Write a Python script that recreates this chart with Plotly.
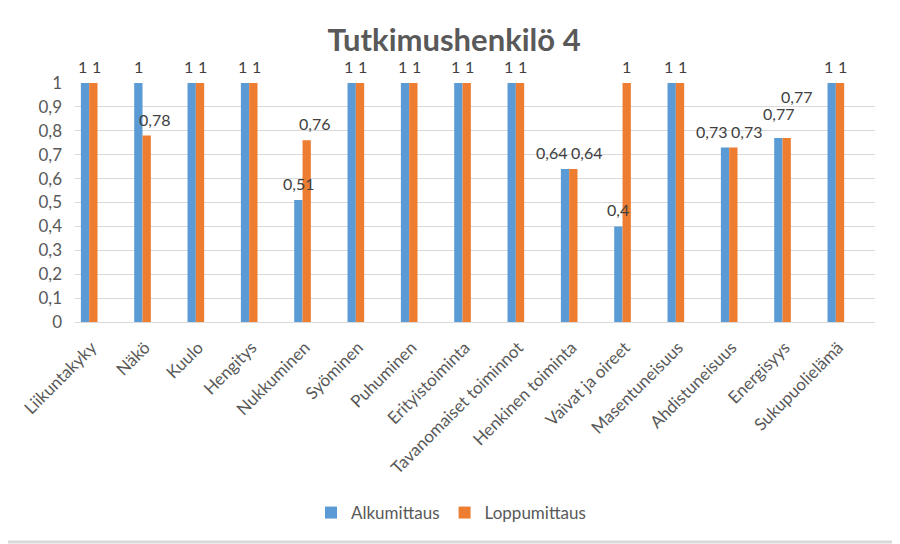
import plotly.graph_objects as go

categories = ["Liikuntakyky", "Näkö", "Kuulo", "Hengitys", "Nukkuminen", "Syöminen",
              "Puhuminen", "Erityistoiminta", "Tavanomaiset toiminnot", "Henkinen toiminta",
              "Vaivat ja oireet", "Masentuneisuus", "Ahdistuneisuus", "Energisyys", "Sukupuolielämä"]
alku = [1, 1, 1, 1, 0.51, 1, 1, 1, 1, 0.64, 0.4, 1, 0.73, 0.77, 1]
loppu = [1, 0.78, 1, 1, 0.76, 1, 1, 1, 1, 0.64, 1, 1, 0.73, 0.77, 1]
series_names = ["Alkumittaus", "Loppumittaus"]
y_ticks = [0, 0.1, 0.2, 0.3, 0.4, 0.5, 0.6, 0.7, 0.8, 0.9, 1]

BLUE = "#5B9BD5"
ORANGE = "#ED7D31"
TXT = "#595959"
FONT = "Lato"

# page body has an 8px margin, so the figure is drawn 8px in from the top-left
PAGE = 8
W, H = 900 - PAGE, 544 - PAGE
ML, MR, MT = 75 - PAGE, 25, 83 - PAGE
PLOT_BOTTOM = 322 - PAGE
MB = H - PLOT_BOTTOM
plot_w = W - ML - MR
plot_h = H - MT - MB
unit = plot_w / len(categories)

bar_w = 0.156
offsets = [-0.39, -0.234]

def fmt(v):
    return ("%g" % v).replace(".", ",")

def text_w(s):
    return sum(3.8 if c == "," else 9.0 for c in s)

fig = go.Figure()
for name, vals, col, off in zip(series_names, [alku, loppu], [BLUE, ORANGE], offsets):
    fig.add_trace(go.Bar(
        x=categories, y=vals, name=name, marker=dict(color=col, line=dict(width=0)),
        width=bar_w, offset=off, cliponaxis=False,
    ))

# data labels, placed like Excel's automatic label layout (spread / stacked when crowded)
annotations = []
placed = []  # (x0, x1, y0, y1) boxes in plot pixels
LBL_H = 19
BASE_UP = 5

def overlaps(box):
    for b in placed:
        if box[0] < b[1] and box[1] > b[0] and box[2] < b[3] and box[3] > b[2]:
            return True
    return False

for i, cat in enumerate(categories):
    a, b = alku[i], loppu[i]
    ta, tb = fmt(a), fmt(b)
    ca = (offsets[0] + bar_w / 2) * unit
    cb = (offsets[1] + bar_w / 2) * unit
    mid = (ca + cb) / 2
    ups = [BASE_UP, BASE_UP]
    if abs(a - b) < 0.06:
        if len(ta) == 1 and len(tb) == 1:
            sa, sb = mid - 7, mid + 7
        else:
            sa, sb = mid - text_w(ta) / 2 - 2, mid + text_w(tb) / 2 + 2
            cx = (i + 0.5) * unit
            ytop = plot_h * (1 - a) - BASE_UP - LBL_H
            box = (cx + sa - text_w(ta) / 2, cx + sa + text_w(ta) / 2, ytop, ytop + LBL_H)
            if overlaps(box):
                # stack the pair instead of spreading sideways
                sa, sb = mid - 4, mid + 14
                ups = [BASE_UP + 8, BASE_UP + 8 + 17]
    else:
        sa, sb = ca, cb + (8 if len(tb) > 1 else 0)
    for val, txt, sh, up in [(a, ta, sa, ups[0]), (b, tb, sb, ups[1])]:
        cx = (i + 0.5) * unit + sh
        ytop = plot_h * (1 - val) - up - LBL_H
        placed.append((cx - text_w(txt) / 2, cx + text_w(txt) / 2, ytop, ytop + LBL_H))
        annotations.append(dict(
            x=cat, y=val, xref="x", yref="y", text=txt, showarrow=False,
            xshift=sh, yshift=up, yanchor="bottom", xanchor="center",
            font=dict(family=FONT, size=16, color="#404040"),
        ))

fig.update_layout(
    width=W, height=H,
    margin=dict(l=ML, r=MR, t=MT, b=MB, autoexpand=False),
    paper_bgcolor="white", plot_bgcolor="white",
    separators=", ",
    font=dict(family=FONT, size=16, color=TXT),
    title=dict(text="<b>Tutkimushenkilö 4</b>", x=0.5, xref="container", xanchor="center",
               y=1 - (40 - PAGE) / H, yref="container", yanchor="middle",
               font=dict(family=FONT, size=31, color=TXT)),
    showlegend=True,
    legend=dict(orientation="h", xref="container", yref="container",
                x=(451 - PAGE) / W, xanchor="center",
                y=1 - (513 - PAGE) / H, yanchor="middle",
                font=dict(family=FONT, size=17, color=TXT), itemwidth=30),
    annotations=annotations,
    xaxis=dict(type="category", tickangle=-45, showgrid=False, showline=True,
               linecolor="#D9D9D9", linewidth=1, ticks="",
               ticklabelshift=-10, ticklabelstandoff=8,
               tickfont=dict(family=FONT, size=17, color=TXT)),
    yaxis=dict(range=[0, 1], tickvals=y_ticks, showgrid=True, gridcolor="#D9D9D9",
               gridwidth=1, zeroline=False, showline=False, ticks="",
               ticklabelstandoff=12,
               tickfont=dict(family=FONT, size=17, color=TXT)),
)

# chart frame (right and bottom edges that fall inside the figure)
px_x = lambda X: (X - PAGE - ML) / plot_w
px_y = lambda Y: (MT + plot_h - (Y - PAGE)) / plot_h
fig.add_shape(type="line", xref="paper", yref="paper",
              x0=px_x(898), x1=px_x(898), y0=px_y(0), y1=px_y(544),
              line=dict(color="#D9D9D9", width=3), layer="above")
fig.add_shape(type="line", xref="paper", yref="paper",
              x0=px_x(0), x1=px_x(900), y0=px_y(542), y1=px_y(542),
              line=dict(color="#D9D9D9", width=3), layer="above")

fig.write_html("out.html")
